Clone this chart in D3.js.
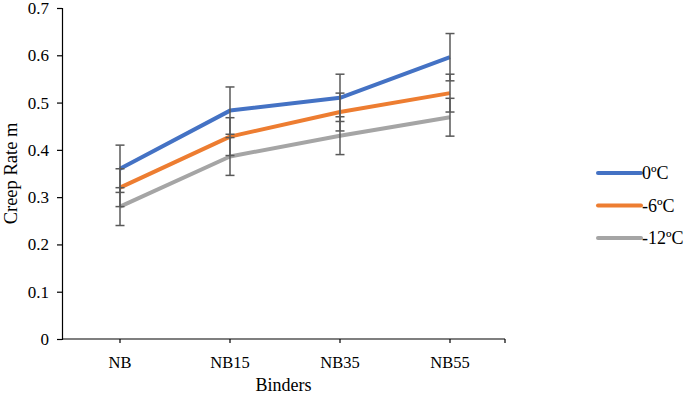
<!DOCTYPE html>
<html>
<head>
<meta charset="utf-8">
<script src="https://cdn.jsdelivr.net/npm/d3@7"></script>
<style>
  body { margin: 0; background: #fff; }
  text { font-family: "Liberation Serif", "Times New Roman", serif; }
</style>
</head>
<body>
<svg id="chart" width="685" height="396"></svg>
<script>
// ---- data ----
const binders = ["NB", "NB15", "NB35", "NB55"];
const seriesNames = ["0ºC", "-6ºC", "-12ºC"];
const creep0 = [0.36, 0.483, 0.51, 0.596];
const creep6 = [0.32, 0.428, 0.48, 0.52];
const creep12 = [0.28, 0.386, 0.43, 0.469];
const err0 = [0.05, 0.05, 0.05, 0.05];
const err6 = [0.04, 0.04, 0.04, 0.04];
const err12 = [0.04, 0.04, 0.04, 0.04];
const yTicks = [0, 0.1, 0.2, 0.3, 0.4, 0.5, 0.6, 0.7];

const colors = ["#4472C4", "#ED7D31", "#A5A5A5"];
const series = [
  { name: seriesNames[0], values: creep0, err: err0, color: colors[0] },
  { name: seriesNames[1], values: creep6, err: err6, color: colors[1] },
  { name: seriesNames[2], values: creep12, err: err12, color: colors[2] }
];

const svg = d3.select("#chart");
const plotL = 62, plotR = 505, plotT = 8, plotB = 339;

const x = d3.scaleBand().domain(binders).range([plotL + 3, plotR]);
const y = d3.scaleLinear().domain([0, 0.7]).range([plotB, plotT]);
const cx = d => x(d) + x.bandwidth() / 2;

// y axis
const yAxis = svg.append("g")
  .attr("transform", `translate(${plotL},0)`)
  .call(d3.axisLeft(y).tickValues(yTicks).tickSize(5).tickPadding(8)
    .tickFormat(d => d === 0 ? "0" : d3.format(".1f")(d)));
yAxis.selectAll("text").style("font-size", "17px").attr("fill", "#000")
  .style("font-family", "'Liberation Serif', serif");
yAxis.selectAll("line, path").attr("stroke", "#000").attr("stroke-width", 1.2);

// x axis
const xAxis = svg.append("g")
  .attr("transform", `translate(0,${plotB})`);
xAxis.append("line").attr("x1", plotL).attr("x2", plotR).attr("stroke", "#000").attr("stroke-width", 1.2);
xAxis.selectAll(".tk").data(binders).enter().append("line")
  .attr("x1", d => cx(d)).attr("x2", d => cx(d))
  .attr("y1", 0).attr("y2", 4).attr("stroke", "#000").attr("stroke-width", 1.2);
xAxis.append("line").attr("x1", plotR).attr("x2", plotR)
  .attr("y1", 0).attr("y2", 4).attr("stroke", "#000").attr("stroke-width", 1.2);
xAxis.selectAll(".lb").data(binders).enter().append("text")
  .attr("x", d => cx(d)).attr("y", 29)
  .attr("text-anchor", "middle").style("font-size", "16.5px").text(d => d);

// axis titles
svg.append("text").attr("x", (plotL + plotR) / 2).attr("y", 391)
  .attr("text-anchor", "middle").style("font-size", "18px").text("Binders");
svg.append("text")
  .attr("transform", `translate(17,${(plotT + plotB) / 2}) rotate(-90)`)
  .attr("text-anchor", "middle").style("font-size", "18.5px").text("Creep Rate m");

// lines
const line = d3.line().x((d, i) => cx(binders[i])).y(d => y(d));
series.forEach(s => {
  svg.append("path").datum(s.values)
    .attr("d", line).attr("fill", "none")
    .attr("stroke", s.color).attr("stroke-width", 4)
    .attr("stroke-linejoin", "round");
});

// error bars
series.forEach(s => {
  const g = svg.append("g").attr("stroke", "#595959").attr("stroke-width", 1.5);
  s.values.forEach((v, i) => {
    const px = cx(binders[i]);
    const hi = y(v + s.err[i]), lo = y(v - s.err[i]);
    g.append("line").attr("x1", px).attr("x2", px).attr("y1", hi).attr("y2", lo);
    g.append("line").attr("x1", px - 4.5).attr("x2", px + 4.5).attr("y1", hi).attr("y2", hi);
    g.append("line").attr("x1", px - 4.5).attr("x2", px + 4.5).attr("y1", lo).attr("y2", lo);
  });
});

// legend
const legend = svg.append("g").attr("transform", "translate(598,173)");
series.forEach((s, i) => {
  const r = legend.append("g").attr("transform", `translate(0,${i * 32.5})`);
  r.append("line").attr("x1", 0).attr("x2", 43).attr("stroke", s.color)
    .attr("stroke-width", 4).attr("stroke-linecap", "round");
  r.append("text").attr("x", 44).attr("y", 6).style("font-size", "18px").text(s.name);
});
</script>
</body>
</html>
